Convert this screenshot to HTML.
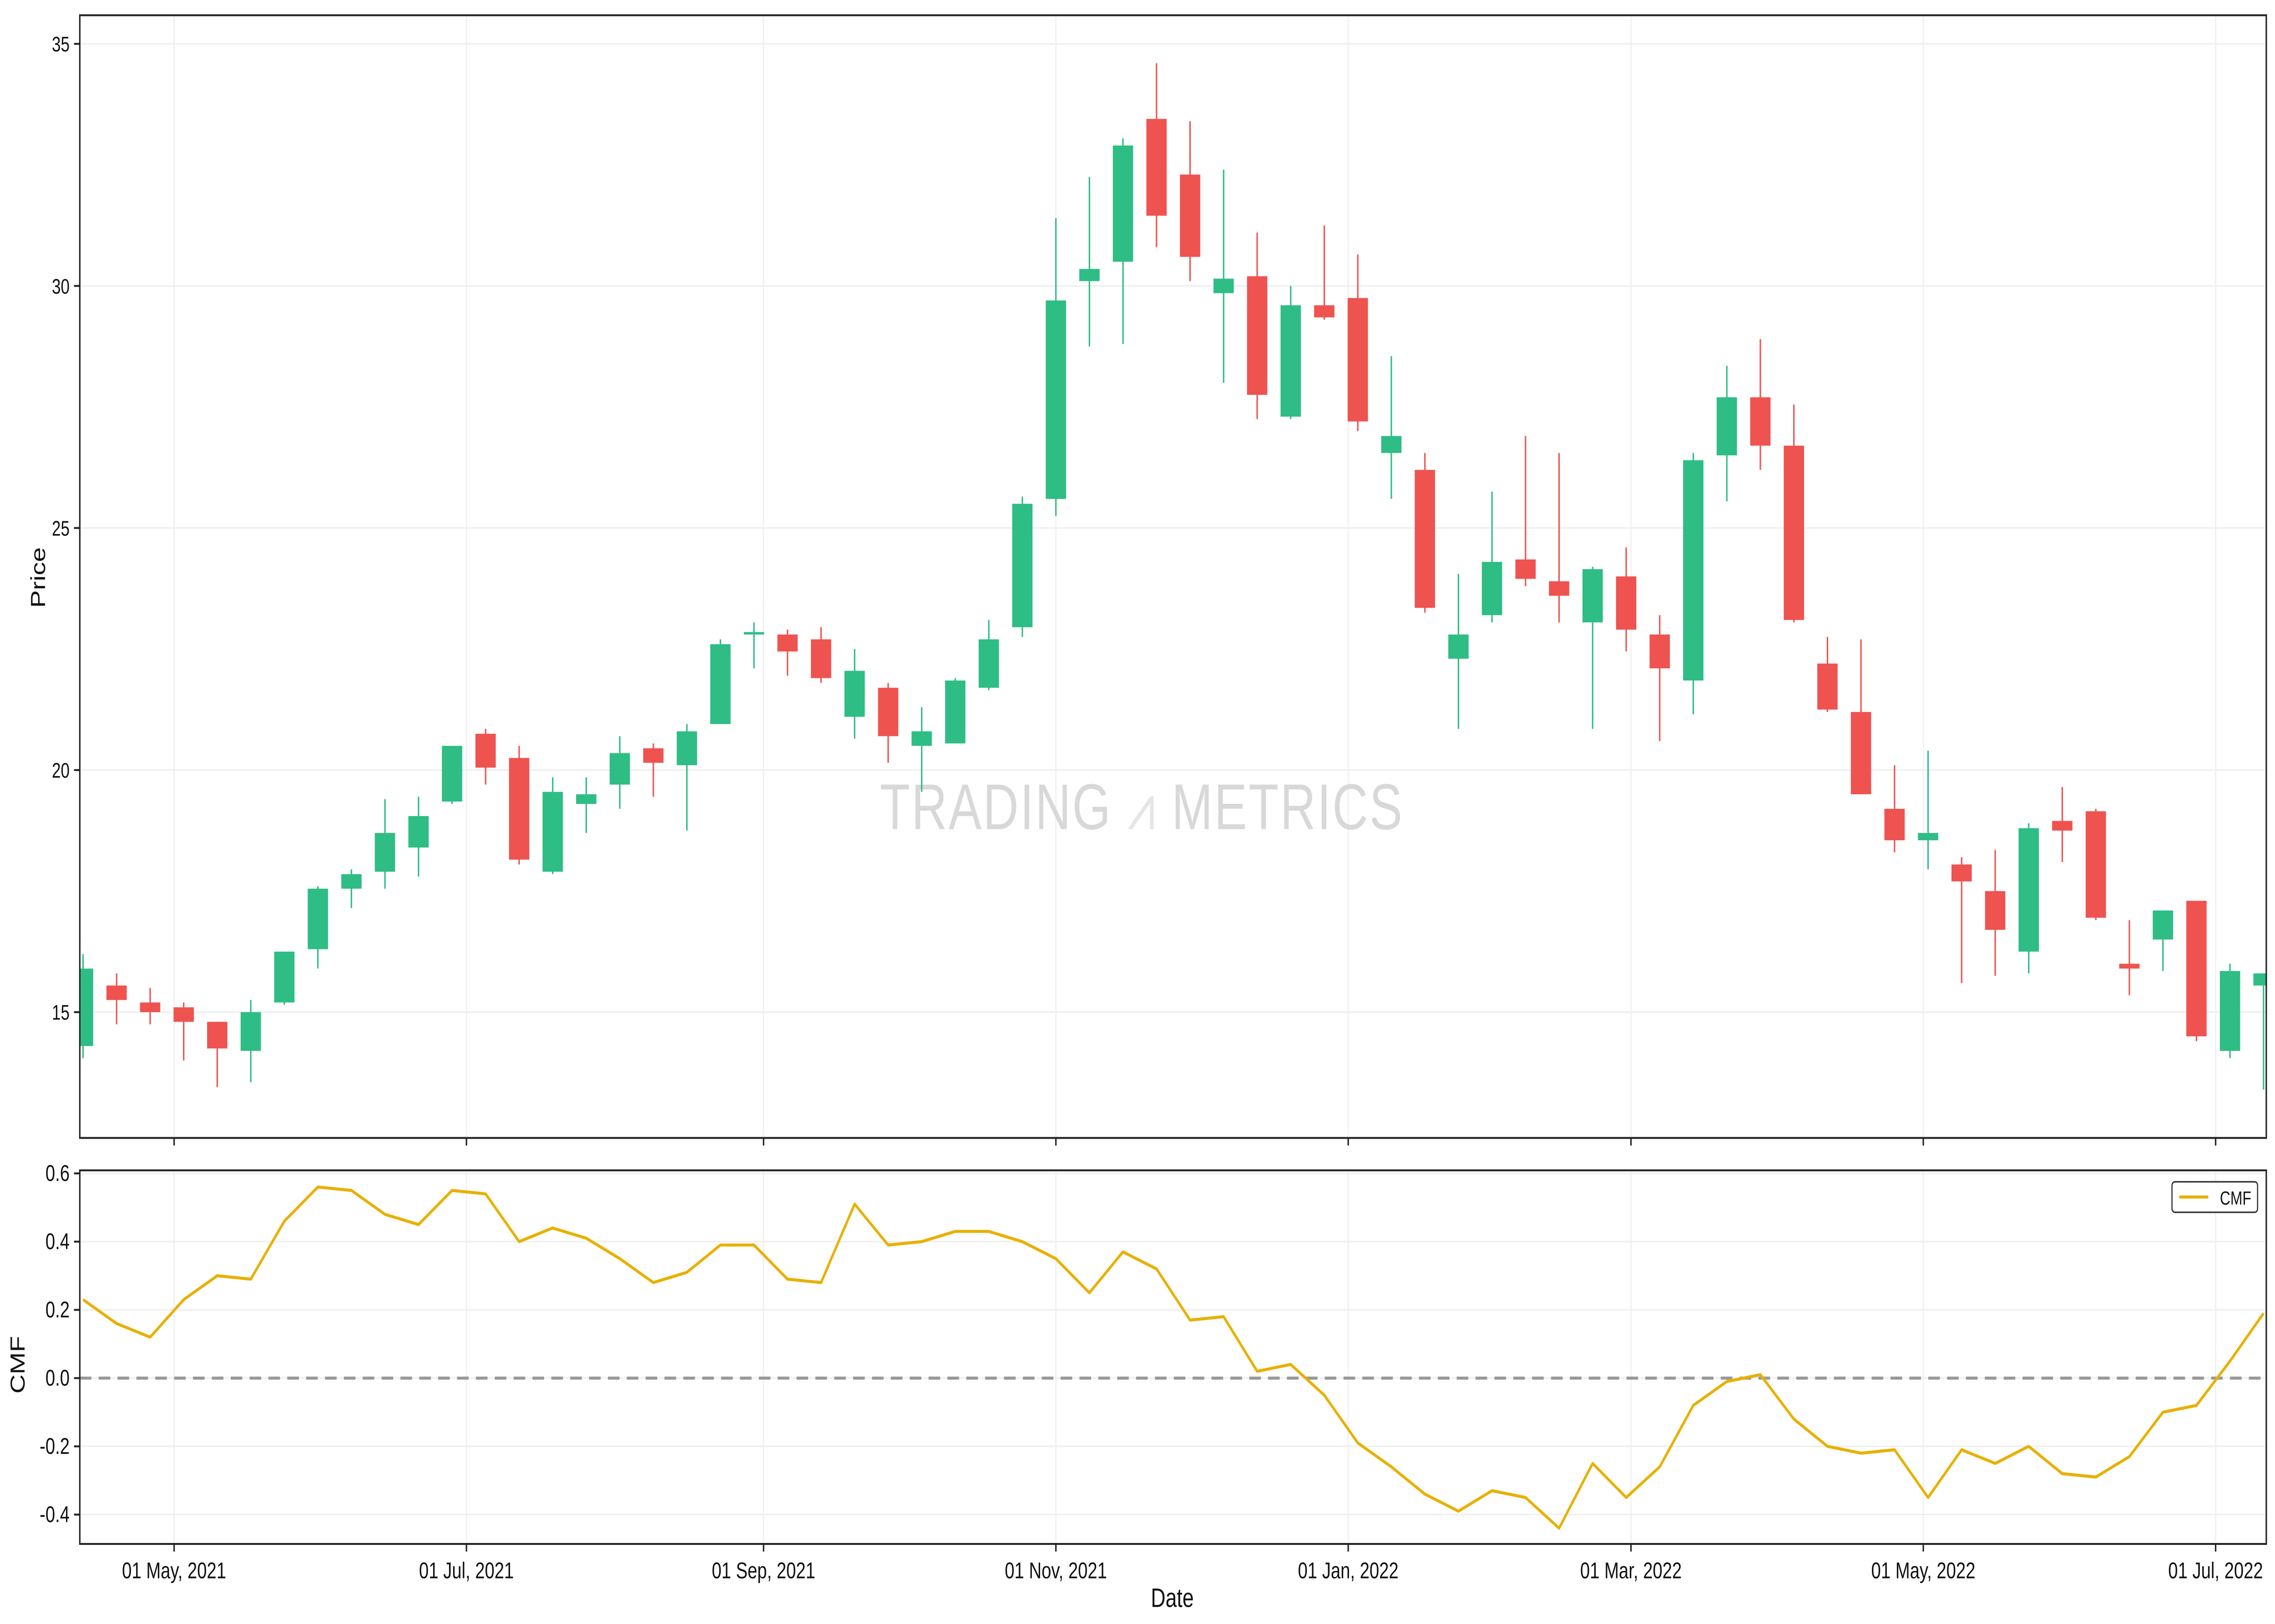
<!DOCTYPE html>
<html><head><meta charset="utf-8"><style>
html,body{margin:0;padding:0;background:#fff;width:100%;height:100%;overflow:hidden;}
svg{display:block;font-family:"Liberation Sans",sans-serif;width:100vw;height:100vh;}
</style></head><body>
<svg id="chart" viewBox="0 0 1568 852" preserveAspectRatio="none" xmlns="http://www.w3.org/2000/svg">
<defs>
<clipPath id="clipP"><rect x="55" y="8" width="1507" height="589"/></clipPath>
<clipPath id="clipC"><rect x="55" y="614" width="1507" height="196"/></clipPath>
</defs>
<rect x="0" y="0" width="1568" height="852" fill="#fff"/>
<g id="grid"></g>
<text x="787" y="435" text-anchor="middle" font-size="34" fill="#d8d8d8" letter-spacing="1">TRADING <tspan fill="#e6e6e6">⩘</tspan> METRICS</text>
<g id="candles" clip-path="url(#clipP)"></g>
<g id="cmf" clip-path="url(#clipC)"></g>
<rect x="55" y="8" width="1507" height="589" fill="none" stroke="#222" stroke-width="1"/>
<rect x="55" y="614" width="1507" height="196" fill="none" stroke="#222" stroke-width="1"/>
<g id="axes" font-size="12" fill="#111"></g>
<text x="31" y="303" font-size="14" text-anchor="middle" transform="rotate(-90 31 303)" fill="#111">Price</text>
<text x="17" y="716" font-size="14" text-anchor="middle" transform="rotate(-90 17 716)" fill="#111">CMF</text>
<text x="808" y="843" font-size="14" text-anchor="middle" fill="#111">Date</text>
<g>
<rect x="1497" y="620" width="59" height="16" rx="2" fill="#fff" stroke="#333" stroke-width="0.8"/>
<line x1="1502" y1="628" x2="1522" y2="628" stroke="#e8b000" stroke-width="1.6"/>
<text x="1530" y="632" font-size="10" fill="#111">CMF</text>
</g>
</svg>
<script>
const startDate = "2021-04-12";
const opens  = [14.3,15.55,15.2,15.1,14.8,14.2,15.2,16.3,17.55,17.9,18.4,19.35,20.75,20.25,17.9,19.3,19.7,20.45,20.1,20.95,22.8,22.8,22.7,21.1,21.7,20.5,20.55,21.7,22.95,25.6,30.1,30.5,33.45,32.3,29.85,30.2,27.3,29.6,29.75,26.55,26.2,22.3,23.2,24.35,23.9,23.05,24.0,22.8,21.85,26.5,27.7,26.7,22.2,21.2,19.2,18.55,18.05,17.5,16.25,18.95,19.15,16.0,16.5,17.3,14.2,15.55];
const closes = [15.9,15.25,15.0,14.8,14.25,15.0,16.25,17.55,17.85,18.7,19.05,20.5,20.05,18.15,19.55,19.5,20.35,20.15,20.8,22.6,22.85,22.45,21.9,22.05,20.7,20.8,21.85,22.7,25.5,29.7,30.35,32.9,31.45,30.6,30.15,27.75,29.6,29.35,27.2,26.9,23.35,22.8,24.3,23.95,23.6,24.15,22.9,22.1,26.4,27.7,26.7,23.1,21.25,19.5,18.55,18.7,17.7,16.7,18.8,18.75,16.95,15.9,17.1,14.5,15.85,15.8];
const highs  = [16.2,15.8,15.5,15.2,14.8,15.25,16.25,17.6,17.95,19.4,19.45,20.5,20.85,20.5,19.85,19.85,20.7,20.55,20.95,22.7,23.05,22.9,22.95,22.5,21.8,21.3,21.9,23.1,25.65,31.4,32.25,33.05,34.6,33.4,32.4,31.1,30.0,31.25,30.65,28.55,26.55,24.05,25.75,26.9,26.55,24.2,24.6,23.2,26.55,28.35,28.9,27.55,22.75,22.7,20.1,20.4,18.2,18.35,18.9,19.65,19.2,16.9,17.1,17.3,16.0,15.8];
const lows   = [14.05,14.75,14.75,14.0,13.45,13.55,15.15,15.9,17.15,17.55,17.8,19.3,19.7,18.05,17.85,18.7,19.2,19.45,18.75,20.95,22.1,21.95,21.8,20.65,20.15,19.55,20.55,21.65,22.75,25.25,28.75,28.8,30.8,30.1,28.0,27.25,27.25,29.3,27.0,25.6,23.25,20.85,23.05,23.8,23.05,20.85,22.45,20.6,21.15,25.55,26.2,23.05,21.2,19.5,18.3,17.95,15.6,15.75,15.8,18.1,16.9,15.35,15.85,14.4,14.05,13.4];
const cmfValues = [0.23,0.16,0.12,0.23,0.30,0.29,0.46,0.56,0.55,0.48,0.45,0.55,0.54,0.40,0.44,0.41,0.35,0.28,0.31,0.39,0.39,0.29,0.28,0.51,0.39,0.40,0.43,0.43,0.40,0.35,0.25,0.37,0.32,0.17,0.18,0.02,0.04,-0.05,-0.19,-0.26,-0.34,-0.39,-0.33,-0.35,-0.44,-0.25,-0.35,-0.26,-0.08,-0.01,0.01,-0.12,-0.20,-0.22,-0.21,-0.35,-0.21,-0.25,-0.20,-0.28,-0.29,-0.23,-0.10,-0.08,0.05,0.19];
const priceTicks = [15,20,25,30,35];
const cmfTicks = [-0.4,-0.2,0.0,0.2,0.4,0.6];
const dateTicks = ["2021-05-01","2021-07-01","2021-09-01","2021-11-01","2022-01-01","2022-03-01","2022-05-01","2022-07-01"];
const dateTickLabels = ["01 May, 2021","01 Jul, 2021","01 Sep, 2021","01 Nov, 2021","01 Jan, 2022","01 Mar, 2022","01 May, 2022","01 Jul, 2022"];

const NS="http://www.w3.org/2000/svg";
const DAY=86400000, ref=Date.UTC(2021,4,1);
function xDate(s){const d=new Date(s+"T00:00:00Z").getTime();return 120+(d-ref)/DAY*3.303;}
function yP(p){return 23+(35-p)*25.4;}
function yC(v){return 723-v*179;}
function mk(tag,attrs,parent){const e=document.createElementNS(NS,tag);for(const k in attrs)e.setAttribute(k,attrs[k]);parent.appendChild(e);return e;}
const grid=document.getElementById('grid'),axes=document.getElementById('axes');
const cg=document.getElementById('candles'),mg=document.getElementById('cmf');
const start=new Date(startDate+"T00:00:00Z").getTime();

priceTicks.forEach(t=>{const y=yP(t);
 const g=mk('line',{x1:55,x2:1562,y1:y,y2:y,stroke:'#efefef','stroke-width':0.8},grid);
 
 
 const tk=mk('line',{x1:51,x2:55,y1:y,y2:y,stroke:'#222'},axes);
 
 
 const tx=mk('text',{x:48,y:y+4,'text-anchor':'end','font-size':11},axes);tx.textContent=t;
 
 
});
cmfTicks.forEach(t=>{const y=yC(t);
 const g=mk('line',{x1:55,x2:1562,y1:y,y2:y,stroke:'#efefef','stroke-width':0.8},grid);
 
 
 const tk=mk('line',{x1:51,x2:55,y1:y,y2:y,stroke:'#222'},axes);
 
 
 const tx=mk('text',{x:48,y:y+4,'text-anchor':'end','font-size':12},axes);tx.textContent=t.toFixed(1);
 
 
});
dateTicks.forEach((d,i)=>{const x=xDate(d);
 [[8,597],[614,810]].forEach(r=>{const g=mk('line',{x1:x,x2:x,y1:r[0],y2:r[1],stroke:'#efefef','stroke-width':0.8},grid);
  
  });
 const t1=mk('line',{x1:x,x2:x,y1:597,y2:601,stroke:'#222'},axes);
 
 
 const t2=mk('line',{x1:x,x2:x,y1:810,y2:814,stroke:'#222'},axes);
 
 
 const tx=mk('text',{x:x,y:828,'text-anchor':'middle','font-size':12},axes);tx.textContent=dateTickLabels[i];
 
 
});

opens.forEach((o,i)=>{
 const x=120+((start+i*7*DAY)-ref)/DAY*3.303;
 const c=closes[i],up=c>=o,col=up?'#2ebd85':'#ef5350';
 const w=mk('line',{x1:x,x2:x,y1:yP(highs[i]),y2:yP(lows[i]),stroke:col,'stroke-width':1},cg);
 
 
 const top=yP(Math.max(o,c)),h=Math.max(1,Math.abs(yP(o)-yP(c)));
 const b=mk('rect',{x:x-7,y:top,width:14,height:h,fill:col},cg);
 
 
});

const z=mk('line',{x1:55,x2:1562,y1:yC(0),y2:yC(0),stroke:'#999','stroke-width':1.6,'stroke-dasharray':'8 5'},mg);


const pts=cmfValues.map((v,i)=>{const x=120+((start+i*7*DAY)-ref)/DAY*3.303;return x.toFixed(2)+','+yC(v).toFixed(2);}).join(' ');
const pl=mk('polyline',{points:pts,fill:'none',stroke:'#e8b000','stroke-width':1.6,'stroke-linejoin':'round'},mg);


</script>
</body></html>
